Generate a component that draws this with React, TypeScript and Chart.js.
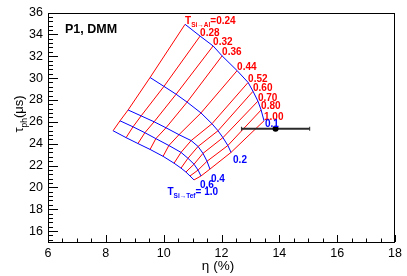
import React, { useEffect, useRef } from "react";
import { Chart, registerables } from "chart.js";
Chart.register(...registerables);

const FONT = "'Liberation Sans', Arial, Helvetica, sans-serif";

// Labels of the red lines (constant T_Si->Al) and blue lines (constant T_Si->Tef)
const tAlLabels = ["0.24", "0.28", "0.32", "0.36", "0.44", "0.52", "0.60", "0.70", "0.80", "1.00"];
const tTefLabels = ["0.1", "0.2", "0.4", "0.6", "1.0"];

// Grid nodes: for each T_Si->Tef value, eta (%) and tau_ph (us) at each T_Si->Al value
const etaTef01 = [10.74, 11.26, 11.71, 12.02, 12.54, 12.92, 13.09, 13.26, 13.37, 13.47];
const tauTef01 = [34.92, 33.84, 32.94, 32.03, 30.68, 29.6, 28.79, 27.89, 27.08, 26.09];
const etaTef02 = [9.53, 10.01, 10.43, 10.81, 11.29, 11.67, 11.88, 12.05, 12.22, 12.33];
const tauTef02 = [30.05, 29.24, 28.52, 27.8, 26.81, 25.82, 25.18, 24.55, 23.83, 23.2];
const etaTef04 = [8.77, 9.22, 9.67, 10.08, 10.53, 10.95, 11.19, 11.36, 11.5, 11.6];
const tauTef04 = [27.08, 26.54, 26.0, 25.45, 24.82, 24.28, 23.74, 23.11, 22.39, 21.67];
const etaTef06 = [8.49, 8.94, 9.35, 9.73, 10.18, 10.6, 10.84, 11.05, 11.19, 11.29];
const tauTef06 = [26.09, 25.54, 25.0, 24.46, 23.83, 23.2, 22.66, 22.12, 21.58, 21.04];
const etaTef10 = [8.25, 8.7, 9.11, 9.53, 9.98, 10.36, 10.6, 10.77, 10.91, 11.05];
const tauTef10 = [25.18, 24.55, 24.01, 23.47, 22.84, 22.21, 21.76, 21.4, 21.04, 20.68];

// Measurement
const measEta = [13.87];
const measTau = [25.36];
const measEtaErr = [1.18];
const measTauErr = [0.15];

// Axis ticks
const xTicks = [6, 8, 10, 12, 14, 16, 18];
const yTicks = [16, 18, 20, 22, 24, 26, 28, 30, 32, 34, 36];

const gridEta = [etaTef01, etaTef02, etaTef04, etaTef06, etaTef10];
const gridTau = [tauTef01, tauTef02, tauTef04, tauTef06, tauTef10];

type Seg = { t: string; sub?: boolean };

function drawRich(
  ctx: CanvasRenderingContext2D,
  segs: Seg[],
  x: number,
  y: number,
  size: number,
  color: string,
  bold: boolean,
  align: "left" | "right" | "center" = "left"
) {
  const w = bold ? "bold " : "";
  const mainFont = `${w}${size}px ${FONT}`;
  const subSize = size * 0.65;
  const subFont = `${w}${subSize}px ${FONT}`;
  let total = 0;
  for (const s of segs) {
    ctx.font = s.sub ? subFont : mainFont;
    total += ctx.measureText(s.t).width;
  }
  let cx = align === "right" ? x - total : align === "center" ? x - total / 2 : x;
  ctx.fillStyle = color;
  ctx.textAlign = "left";
  ctx.textBaseline = "alphabetic";
  for (const s of segs) {
    ctx.font = s.sub ? subFont : mainFont;
    ctx.fillText(s.t, cx, s.sub ? y + size * 0.3 : y);
    cx += ctx.measureText(s.t).width;
  }
}

const decor = {
  id: "rootDecor",
  beforeDatasetDraw(chart: any, args: any) {
    if (args.index !== 0) return;
    const { ctx, scales } = chart;
    const x = scales.x;
    const y = scales.y;
    ctx.save();
    ctx.strokeStyle = "#2a2a2a";
    ctx.lineWidth = 2;
    for (let i = 0; i < measEta.length; i++) {
      const x0 = x.getPixelForValue(measEta[i] - measEtaErr[i]);
      const x1 = x.getPixelForValue(measEta[i] + measEtaErr[i]);
      const yc = y.getPixelForValue(measTau[i]);
      const y0 = y.getPixelForValue(measTau[i] - measTauErr[i]);
      const y1 = y.getPixelForValue(measTau[i] + measTauErr[i]);
      const xc = x.getPixelForValue(measEta[i]);
      ctx.beginPath();
      ctx.moveTo(x0, yc);
      ctx.lineTo(x1, yc);
      ctx.stroke();
      ctx.lineWidth = 1;
      ctx.beginPath();
      ctx.moveTo(x0, yc - 2);
      ctx.lineTo(x0, yc + 2);
      ctx.moveTo(x1, yc - 2);
      ctx.lineTo(x1, yc + 2);
      ctx.moveTo(xc, y0);
      ctx.lineTo(xc, y1);
      ctx.stroke();
    }
    ctx.restore();
  },
  afterDraw(chart: any) {
    const { ctx, chartArea, scales } = chart;
    const { left, right, top, bottom } = chartArea;
    const x = scales.x;
    const y = scales.y;
    ctx.save();
    // frame
    ctx.strokeStyle = "#000";
    ctx.lineWidth = 1;
    ctx.strokeRect(Math.round(left) + 0.5, Math.round(top) + 0.5, Math.round(right - left) - 1, Math.round(bottom - top) - 1);
    // x ticks (inside)
    ctx.beginPath();
    for (let k = 0; k <= 24; k++) {
      const v = 6 + 0.5 * k;
      const px = Math.round(x.getPixelForValue(v)) + 0.5;
      const len = Math.abs(v % 2) < 1e-6 ? 7 : 3.5;
      ctx.moveTo(px, bottom);
      ctx.lineTo(px, bottom - len);
    }
    // y ticks
    for (let k = 0; k <= 60; k++) {
      const v = 15.2 + 0.4 * k;
      if (v > 36.001) break;
      const py = Math.round(y.getPixelForValue(v)) + 0.5;
      const r = Math.round(v);
      const major = Math.abs(v - r) < 1e-6 && r % 2 === 0;
      const len = major ? 10 : 5;
      ctx.moveTo(left, py);
      ctx.lineTo(left + len, py);
    }
    ctx.stroke();

    // red labels
    for (let i = 0; i < tAlLabels.length; i++) {
      const px = x.getPixelForValue(etaTef01[i]);
      const py = y.getPixelForValue(tauTef01[i]);
      const segs: Seg[] = i === 0 ? [{ t: "T" }, { t: "Si\u2192Al", sub: true }, { t: "=" + tAlLabels[i] }] : [{ t: tAlLabels[i] }];
      drawRich(ctx, segs, px, py - 0.5, 10, "#ff0000", true);
    }
    // blue labels
    const offs = [
      [1, 6.5],
      [2, 10.5],
      [1, 12.5],
      [-1, 12.5],
      [24, 15.5],
    ];
    for (let j = 0; j < tTefLabels.length; j++) {
      const px = x.getPixelForValue(gridEta[j][9]);
      const py = y.getPixelForValue(gridTau[j][9]);
      if (j === 4) {
        drawRich(ctx, [{ t: "T" }, { t: "Si\u2192Tef", sub: true }, { t: "= " + tTefLabels[j] }], px + offs[j][0], py + offs[j][1], 10, "#0000ff", true, "right");
      } else {
        drawRich(ctx, [{ t: tTefLabels[j] }], px + offs[j][0], py + offs[j][1], 10, "#0000ff", true);
      }
    }
    // P1, DMM
    drawRich(ctx, [{ t: "P1, DMM" }], left + 17, top + 20.5, 12.5, "#000", true);

    // x title
    ctx.fillStyle = "#000";
    ctx.font = `13.5px ${FONT}`;
    ctx.textBaseline = "alphabetic";
    ctx.textAlign = "center";
    ctx.fillText("\u03b7 (%)", 218, 270);

    // y title (rotated)
    ctx.translate(23, 114);
    ctx.rotate(-Math.PI / 2);
    drawRich(ctx, [{ t: "\u03c4" }, { t: "ph", sub: true }, { t: "(\u03bcs)" }], 0, 0, 13, "#000", false, "center");
    ctx.restore();
  },
};

export default function App() {
  const ref = useRef<HTMLCanvasElement>(null);
  useEffect(() => {
    document.body.style.margin = "0";
    const canvas = ref.current!;
    const datasets: any[] = [];
    datasets.push({
      label: "meas",
      data: measEta.map((e, i) => ({ x: e, y: measTau[i] })),
      pointRadius: 3,
      pointBackgroundColor: "#000",
      pointBorderColor: "#000",
      pointBorderWidth: 0,
      showLine: false,
    });
    for (let j = 0; j < gridEta.length; j++) {
      datasets.push({
        label: "Tef " + tTefLabels[j],
        data: gridEta[j].map((e, i) => ({ x: e, y: gridTau[j][i] })),
        showLine: true,
        borderColor: "#0000ff",
        borderWidth: 1,
        pointRadius: 0,
        tension: 0,
      });
    }
    for (let i = 0; i < tAlLabels.length; i++) {
      const pts = [];
      for (let j = gridEta.length - 1; j >= 0; j--) pts.push({ x: gridEta[j][i], y: gridTau[j][i] });
      datasets.push({
        label: "Al " + tAlLabels[i],
        data: pts,
        showLine: true,
        borderColor: "#ff0000",
        borderWidth: 1,
        pointRadius: 0,
        tension: 0,
      });
    }
    const chart = new Chart(canvas, {
      type: "scatter",
      data: { datasets },
      options: {
        responsive: false,
        animation: false,
        devicePixelRatio: 1,
        layout: { padding: { left: 0, right: 12, top: 8, bottom: 0 } },
        plugins: { legend: { display: false }, tooltip: { enabled: false } },
        scales: {
          x: {
            type: "linear",
            min: 6,
            max: 18,
            afterBuildTicks: (s: any) => {
              s.ticks = xTicks.map((v) => ({ value: v }));
            },
            afterFit: (s: any) => {
              s.height = 34;
            },
            grid: { display: false, drawTicks: false },
            border: { display: false },
            ticks: { font: { family: FONT, size: 12.5 }, color: "#000", padding: 4, maxRotation: 0, autoSkip: false },
          },
          y: {
            type: "linear",
            min: 15,
            max: 36,
            afterBuildTicks: (s: any) => {
              s.ticks = yTicks.map((v) => ({ value: v }));
            },
            afterFit: (s: any) => {
              s.width = 48;
            },
            grid: { display: false, drawTicks: false },
            border: { display: false },
            ticks: { font: { family: FONT, size: 12.5 }, color: "#000", padding: 5, autoSkip: false },
          },
        },
      },
      plugins: [decor],
    } as any);
    return () => chart.destroy();
  }, []);
  return (
    <div style={{ width: 407, height: 276, background: "#fff" }}>
      <canvas ref={ref} width={407} height={276} style={{ display: "block" }} />
    </div>
  );
}
